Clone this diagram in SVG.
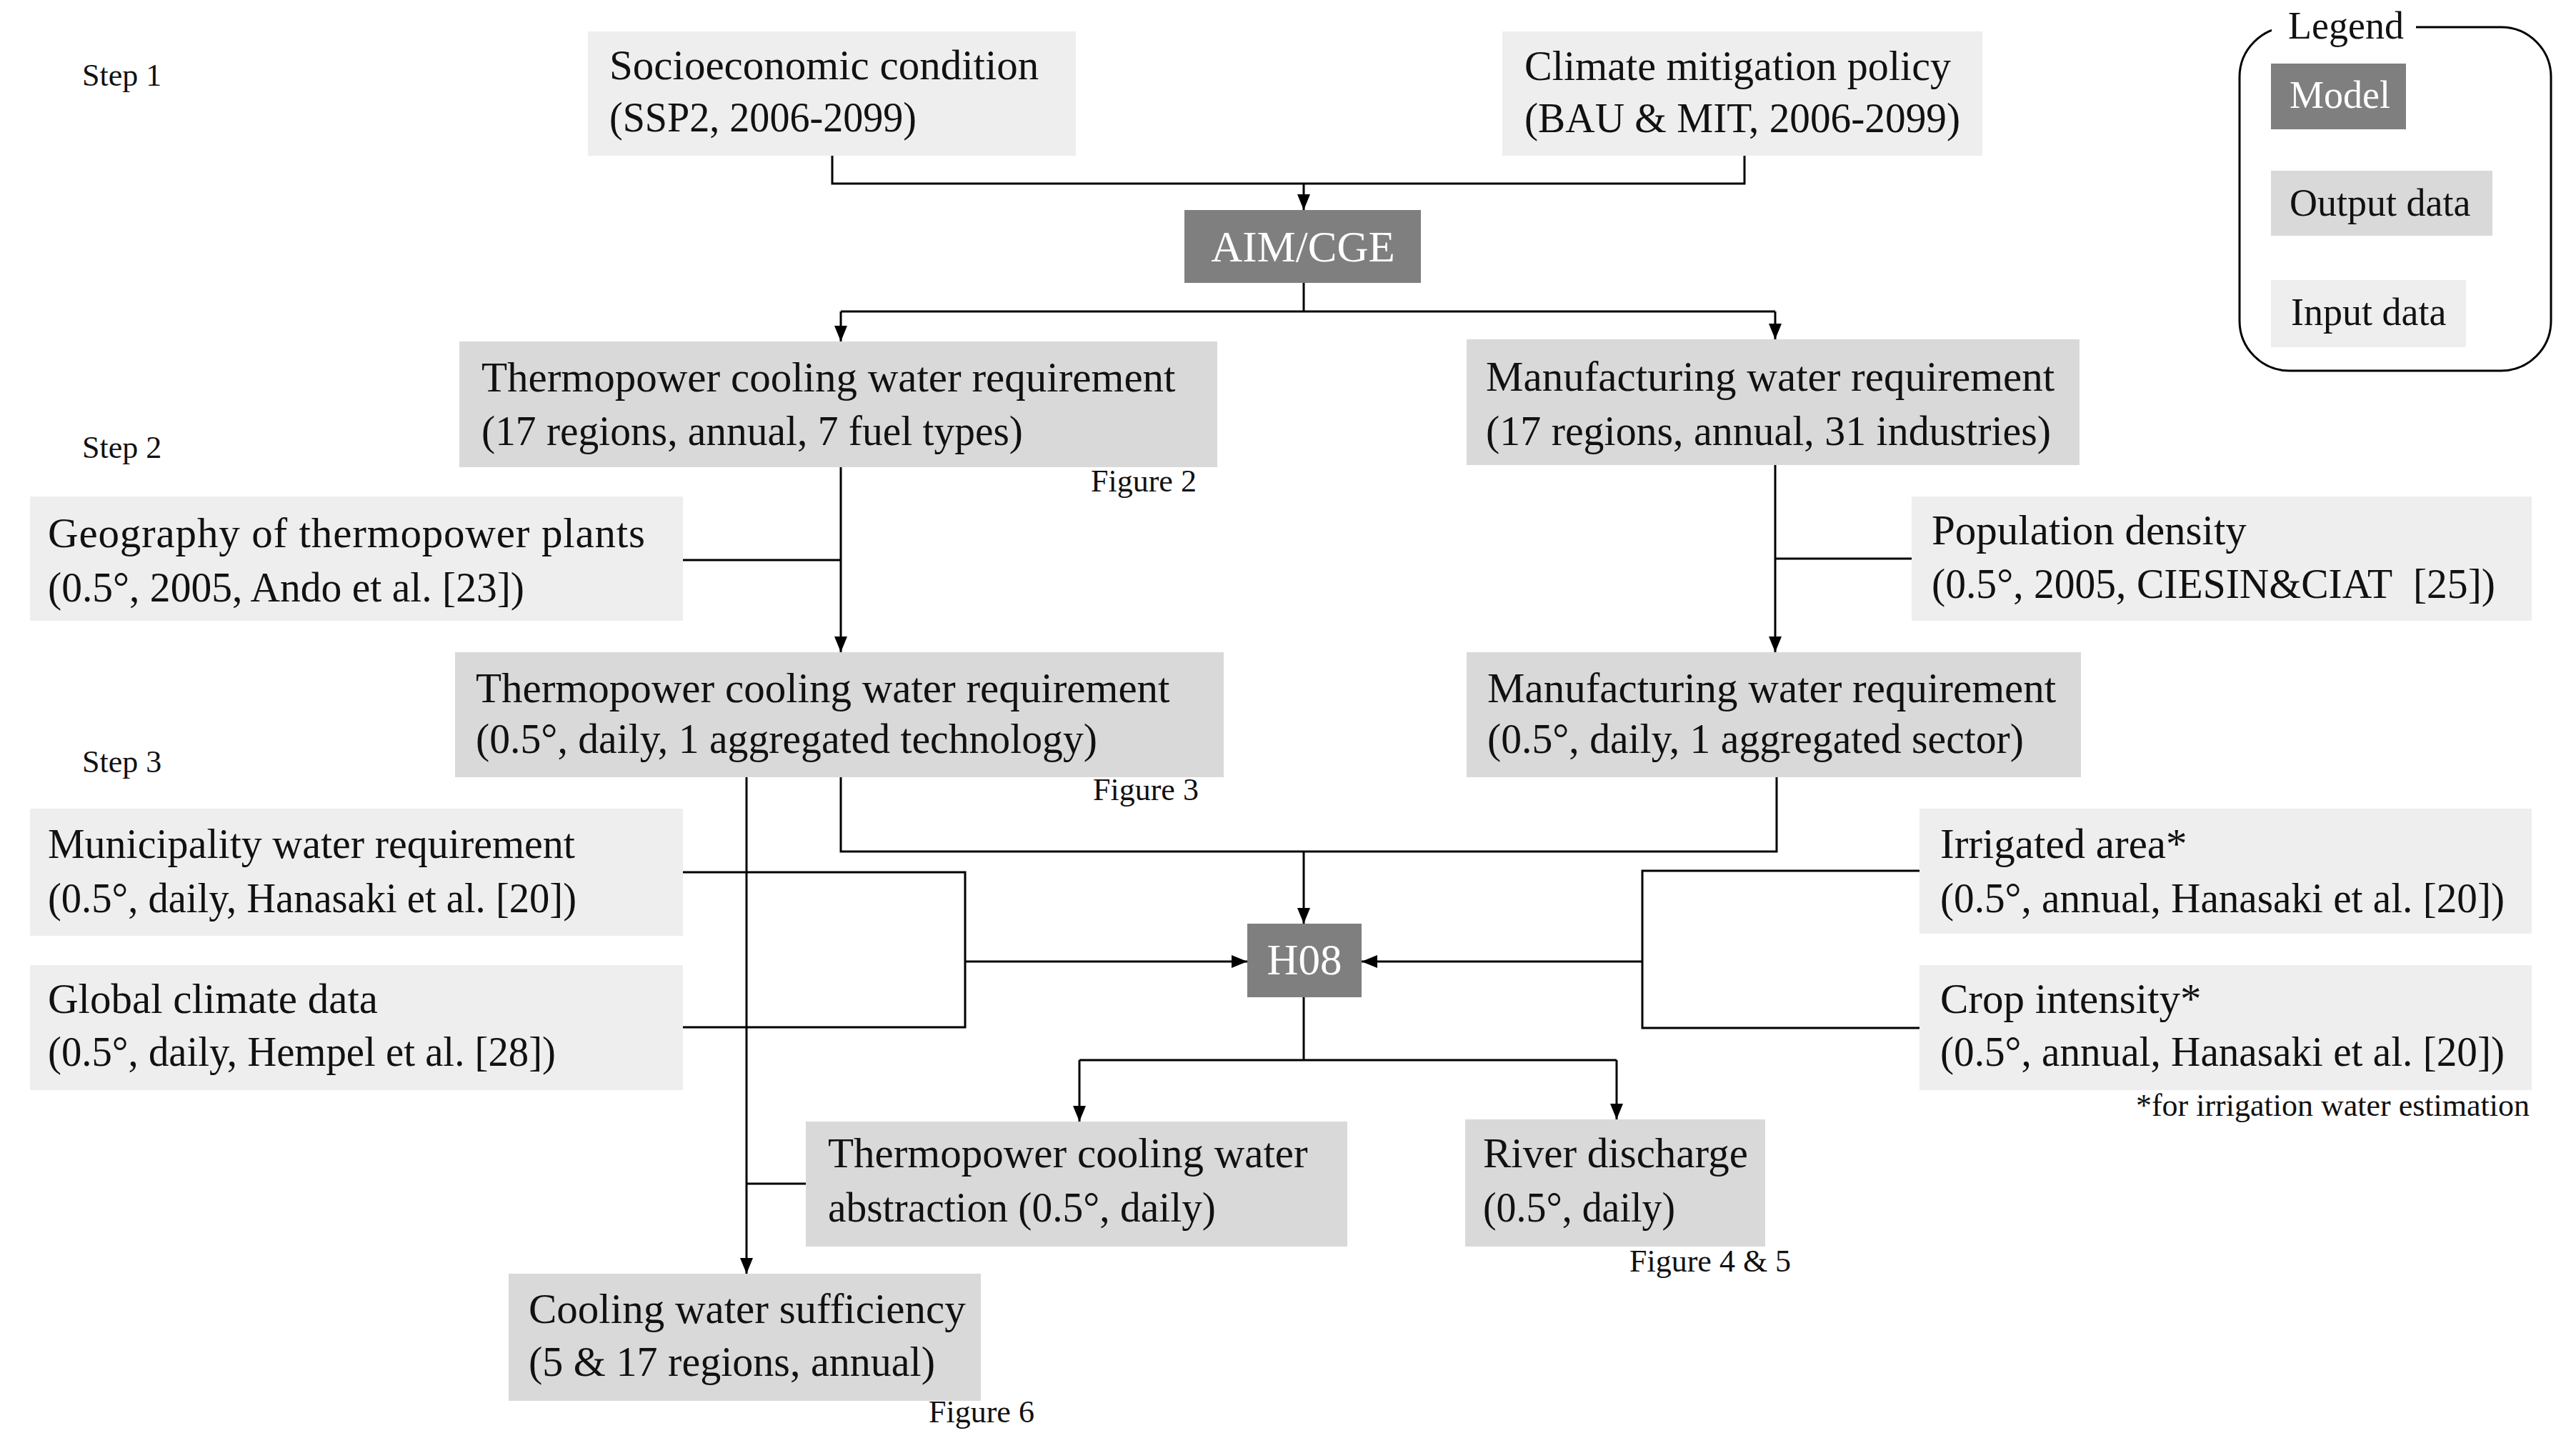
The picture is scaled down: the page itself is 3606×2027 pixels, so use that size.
<svg xmlns="http://www.w3.org/2000/svg" width="3606" height="2027" viewBox="0 0 3606 2027">
<style>
text{font-family:"Liberation Serif","Times New Roman",serif;fill:#111}
.t{font-size:59px}
.s{font-size:44px}
.lg{font-size:54px}
.m{font-size:61px;fill:#fff;text-anchor:middle}
.in{fill:#EEEEEE}
.out{fill:#D9D9D9}
.mod{fill:#7F7F7F}
.c{fill:none;stroke:#000;stroke-width:3}
.a{marker-end:url(#ah)}
</style>
<defs>
<marker id="ah" markerUnits="userSpaceOnUse" markerWidth="22" markerHeight="18" refX="22" refY="9" orient="auto" viewBox="0 0 22 18">
<path d="M0,0 L22,9 L0,18 z" fill="#000"/>
</marker>
</defs>
<rect width="3606" height="2027" fill="#fff"/>

<g id="labels">
<text class="s" x="115" y="120">Step 1</text>
<text class="s" x="115" y="641">Step 2</text>
<text class="s" x="115" y="1081">Step 3</text>
<text class="s" x="1527" y="688">Figure 2</text>
<text class="s" x="1530" y="1120">Figure 3</text>
<text class="s" x="2281" y="1780">Figure 4 &amp; 5</text>
<text class="s" x="1300" y="1991">Figure 6</text>
<text class="s" x="3541" y="1562" text-anchor="end">*for irrigation water estimation</text>
</g>

<g id="connectors">
<polyline class="c" points="1165,218 1165,257 2442,257 2442,218"/>
<line class="c a" x1="1825" y1="257" x2="1825" y2="294"/>
<line class="c" x1="1825" y1="396" x2="1825" y2="436"/>
<line class="c" x1="1177" y1="436" x2="2485" y2="436"/>
<line class="c a" x1="1177" y1="436" x2="1177" y2="478"/>
<line class="c a" x1="2485" y1="436" x2="2485" y2="475"/>
<line class="c a" x1="1177" y1="654" x2="1177" y2="913"/>
<line class="c" x1="956" y1="784" x2="1177" y2="784"/>
<line class="c a" x1="2485" y1="651" x2="2485" y2="913"/>
<line class="c" x1="2676" y1="782" x2="2485" y2="782"/>
<polyline class="c" points="1177,1088 1177,1192 2487,1192 2487,1088"/>
<line class="c a" x1="1825" y1="1192" x2="1825" y2="1293"/>
<line class="c a" x1="1045" y1="1088" x2="1045" y2="1783"/>
<line class="c" x1="1128" y1="1657" x2="1045" y2="1657"/>
<polyline class="c" points="956,1221 1351,1221 1351,1438 956,1438"/>
<line class="c a" x1="1351" y1="1346" x2="1746" y2="1346"/>
<polyline class="c" points="2687,1219 2299,1219 2299,1439 2687,1439"/>
<line class="c a" x1="2299" y1="1346" x2="1906" y2="1346"/>
<line class="c" x1="1825" y1="1396" x2="1825" y2="1484"/>
<line class="c" x1="1511" y1="1484" x2="2263" y2="1484"/>
<line class="c a" x1="1511" y1="1484" x2="1511" y2="1570"/>
<line class="c a" x1="2263" y1="1484" x2="2263" y2="1567"/>
</g>

<g id="socio">
<rect class="in" x="823" y="44" width="683" height="174"/>
<text class="t" x="853" y="111">Socioeconomic condition</text>
<text class="t" x="853" y="184" textLength="430" lengthAdjust="spacingAndGlyphs">(SSP2, 2006-2099)</text>
</g>
<g id="climate">
<rect class="in" x="2103" y="44" width="672" height="174"/>
<text class="t" x="2134" y="112" textLength="597" lengthAdjust="spacingAndGlyphs">Climate mitigation policy</text>
<text class="t" x="2134" y="185" textLength="610" lengthAdjust="spacingAndGlyphs">(BAU &amp; MIT, 2006-2099)</text>
</g>
<g id="aimcge">
<rect class="mod" x="1658" y="294" width="331" height="102"/>
<text class="m" x="1824" y="366">AIM/CGE</text>
</g>
<g id="thermo-annual">
<rect class="out" x="643" y="478" width="1061" height="176"/>
<text class="t" x="674" y="548">Thermopower cooling water requirement</text>
<text class="t" x="674" y="623" textLength="758" lengthAdjust="spacingAndGlyphs">(17 regions, annual, 7 fuel types)</text>
</g>
<g id="manu-annual">
<rect class="out" x="2053" y="475" width="858" height="176"/>
<text class="t" x="2080" y="547">Manufacturing water requirement</text>
<text class="t" x="2080" y="623" textLength="791" lengthAdjust="spacingAndGlyphs">(17 regions, annual, 31 industries)</text>
</g>
<g id="geo">
<rect class="in" x="42" y="695" width="914" height="174"/>
<text class="t" x="67" y="766" textLength="836" lengthAdjust="spacing">Geography of thermopower plants</text>
<text class="t" x="67" y="842" textLength="667" lengthAdjust="spacingAndGlyphs">(0.5°, 2005, Ando et al. [23])</text>
</g>
<g id="pop">
<rect class="in" x="2676" y="695" width="868" height="174"/>
<text class="t" x="2704" y="762">Population density</text>
<text class="t" x="2704" y="837" textLength="789" lengthAdjust="spacingAndGlyphs">(0.5°, 2005, CIESIN&amp;CIAT&#160; [25])</text>
</g>
<g id="thermo-daily">
<rect class="out" x="637" y="913" width="1076" height="175"/>
<text class="t" x="666" y="983">Thermopower cooling water requirement</text>
<text class="t" x="666" y="1054" textLength="870" lengthAdjust="spacingAndGlyphs">(0.5°, daily, 1 aggregated technology)</text>
</g>
<g id="manu-daily">
<rect class="out" x="2053" y="913" width="860" height="175"/>
<text class="t" x="2082" y="983">Manufacturing water requirement</text>
<text class="t" x="2082" y="1054" textLength="751" lengthAdjust="spacingAndGlyphs">(0.5°, daily, 1 aggregated sector)</text>
</g>
<g id="muni">
<rect class="in" x="42" y="1132" width="914" height="178"/>
<text class="t" x="67" y="1201" textLength="738" lengthAdjust="spacingAndGlyphs">Municipality water requirement</text>
<text class="t" x="67" y="1277" textLength="740" lengthAdjust="spacingAndGlyphs">(0.5°, daily, Hanasaki et al. [20])</text>
</g>
<g id="irrig">
<rect class="in" x="2687" y="1132" width="857" height="175"/>
<text class="t" x="2716" y="1201">Irrigated area*</text>
<text class="t" x="2716" y="1277" textLength="790" lengthAdjust="spacingAndGlyphs">(0.5°, annual, Hanasaki et al. [20])</text>
</g>
<g id="h08">
<rect class="mod" x="1746" y="1293" width="160" height="103"/>
<text class="m" x="1826" y="1364">H08</text>
</g>
<g id="global">
<rect class="in" x="42" y="1351" width="914" height="175"/>
<text class="t" x="67" y="1418">Global climate data</text>
<text class="t" x="67" y="1492" textLength="711" lengthAdjust="spacingAndGlyphs">(0.5°, daily, Hempel et al. [28])</text>
</g>
<g id="crop">
<rect class="in" x="2687" y="1351" width="857" height="175"/>
<text class="t" x="2716" y="1418">Crop intensity*</text>
<text class="t" x="2716" y="1492" textLength="790" lengthAdjust="spacingAndGlyphs">(0.5°, annual, Hanasaki et al. [20])</text>
</g>
<g id="abstraction">
<rect class="out" x="1128" y="1570" width="758" height="175"/>
<text class="t" x="1159" y="1634">Thermopower cooling water</text>
<text class="t" x="1159" y="1710" textLength="543" lengthAdjust="spacingAndGlyphs">abstraction (0.5°, daily)</text>
</g>
<g id="river">
<rect class="out" x="2051" y="1567" width="420" height="178"/>
<text class="t" x="2076" y="1634">River discharge</text>
<text class="t" x="2076" y="1710" textLength="269" lengthAdjust="spacingAndGlyphs">(0.5°, daily)</text>
</g>
<g id="cooling">
<rect class="out" x="712" y="1783" width="661" height="178"/>
<text class="t" x="740" y="1852">Cooling water sufficiency</text>
<text class="t" x="740" y="1926" textLength="569" lengthAdjust="spacingAndGlyphs">(5 &amp; 17 regions, annual)</text>
</g>

<g id="legend">
<rect x="3135" y="38" width="436" height="481" rx="70" ry="70" fill="none" stroke="#000" stroke-width="3"/>
<rect x="3180" y="20" width="202" height="40" fill="#fff"/>
<text class="lg" x="3203" y="54">Legend</text>
<rect class="mod" x="3179" y="89" width="189" height="92"/>
<text class="lg" x="3205" y="151" style="fill:#fff">Model</text>
<rect class="out" x="3179" y="239" width="310" height="91"/>
<text class="lg" x="3205" y="302">Output data</text>
<rect class="in" x="3179" y="392" width="273" height="94"/>
<text class="lg" x="3207" y="455">Input data</text>
</g>
</svg>
